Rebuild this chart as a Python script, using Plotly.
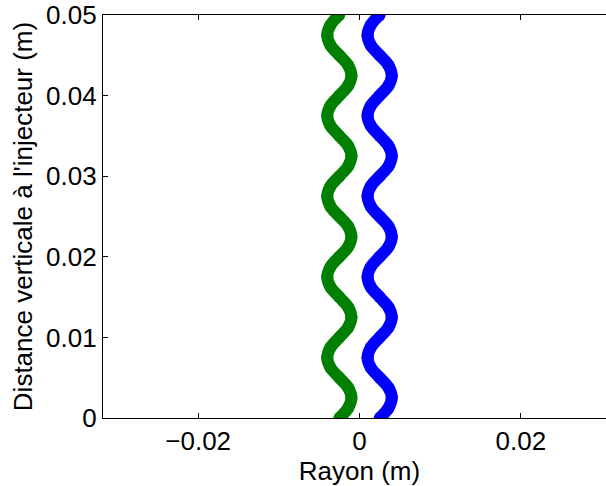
import plotly.graph_objects as go

# Vertical positions (m), read every 1/8 of a wave period
height_m = [0.0, 0.00125, 0.0025, 0.00375, 0.005, 0.00625, 0.0075, 0.00875,
            0.01, 0.01125, 0.0125, 0.01375, 0.015, 0.01625, 0.0175, 0.01875,
            0.02, 0.02125, 0.0225, 0.02375, 0.025, 0.02625, 0.0275, 0.02875,
            0.03, 0.03125, 0.0325, 0.03375, 0.035, 0.03625, 0.0375, 0.03875,
            0.04, 0.04125, 0.0425, 0.04375, 0.045, 0.04625, 0.0475, 0.04875,
            0.05]

# Radial positions (m) of the green jet
green_r = [-0.0025, -0.0014, -0.0010, -0.0014, -0.0025, -0.0036, -0.0040, -0.0036,
           -0.0025, -0.0014, -0.0010, -0.0014, -0.0025, -0.0036, -0.0040, -0.0036,
           -0.0025, -0.0014, -0.0010, -0.0014, -0.0025, -0.0036, -0.0040, -0.0036,
           -0.0025, -0.0014, -0.0010, -0.0014, -0.0025, -0.0036, -0.0040, -0.0036,
           -0.0025, -0.0014, -0.0010, -0.0014, -0.0025, -0.0036, -0.0040, -0.0036,
           -0.0025]

# Radial positions (m) of the blue jet
blue_r = [0.0025, 0.0036, 0.0040, 0.0036, 0.0025, 0.0014, 0.0010, 0.0014,
          0.0025, 0.0036, 0.0040, 0.0036, 0.0025, 0.0014, 0.0010, 0.0014,
          0.0025, 0.0036, 0.0040, 0.0036, 0.0025, 0.0014, 0.0010, 0.0014,
          0.0025, 0.0036, 0.0040, 0.0036, 0.0025, 0.0014, 0.0010, 0.0014,
          0.0025, 0.0036, 0.0040, 0.0036, 0.0025, 0.0014, 0.0010, 0.0014,
          0.0025]

x_ticks = [-0.02, 0, 0.02]
y_ticks = [0, 0.01, 0.02, 0.03, 0.04, 0.05]

fig = go.Figure()
for xs, col in [(green_r, "#008000"), (blue_r, "#0000FF")]:
    fig.add_trace(go.Scatter(
        x=xs, y=height_m, mode="lines+markers",
        line=dict(color=col, width=12, shape="spline", smoothing=1.0),
        marker=dict(color=col, size=12, line=dict(width=0)),
        showlegend=False, hoverinfo="skip",
    ))

font = dict(family="Liberation Sans, Arial, sans-serif", size=26, color="black")

fig.update_layout(
    width=616, height=486,
    margin=dict(l=102.5, r=0, t=15, b=67.7, autoexpand=False),
    paper_bgcolor="white", plot_bgcolor="white",
    font=font,
    xaxis=dict(
        range=[-0.0318, 0.0318], tickvals=x_ticks, automargin=False,
        showgrid=False, zeroline=False,
        showline=True, linecolor="black", linewidth=1.2, mirror="ticks",
        ticks="inside", ticklen=5, tickcolor="black", tickwidth=1,
        title=dict(text="Rayon (m)", font=font, standoff=1),
    ),
    yaxis=dict(
        range=[0, 0.05], tickvals=y_ticks, automargin=False,
        showgrid=False, zeroline=False,
        showline=True, linecolor="black", linewidth=1.2,
        ticks="inside", ticklen=5, tickcolor="black", tickwidth=1,
        title=dict(text="Distance verticale à l'injecteur (m)", font=font, standoff=5),
    ),
)

fig.write_html(
    "out.html",
    config={"displayModeBar": False},
    post_script="document.body.style.margin='0';document.body.style.overflow='hidden';",
)
